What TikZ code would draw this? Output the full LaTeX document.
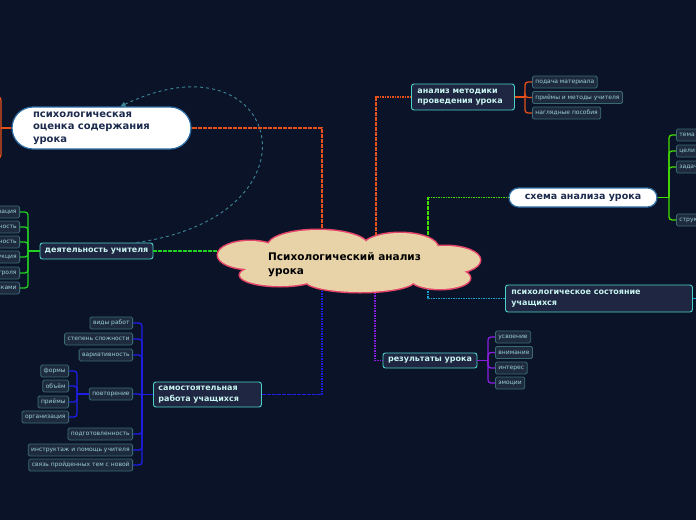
\documentclass[tikz,border=0pt]{standalone}
\usepackage{fontspec}
\setmainfont{DejaVu Sans}
\usetikzlibrary{arrows.meta}
\definecolor{bg}{HTML}{0B1329}
\definecolor{boxfill}{HTML}{1E2642}
\definecolor{tealb}{HTML}{4CD3C9}
\definecolor{maintext}{HTML}{C8F4EF}
\definecolor{leaffill}{HTML}{1E2B3E}
\definecolor{leafb}{HTML}{3A6B74}
\definecolor{leaftext}{HTML}{9CCFD8}
\definecolor{pillb}{HTML}{2B6CA3}
\definecolor{pilltext}{HTML}{1C2B4E}
\definecolor{cloudfill}{HTML}{E8D3A8}
\definecolor{cloudb}{HTML}{E6456A}
\definecolor{corange}{HTML}{E4511B}
\definecolor{cgreen}{HTML}{22D022}
\definecolor{clime}{HTML}{44DD00}
\definecolor{ccyan}{HTML}{1BA3CF}
\definecolor{cpurple}{HTML}{8A1FE0}
\definecolor{cblue}{HTML}{1E1EE8}
\definecolor{crel}{HTML}{3D8796}
\tikzset{
  mainbox/.style={fill=boxfill, draw=tealb, line width=0.9pt, rounded corners=2.5pt, text=maintext, font=\fontsize{8}{10.5}\selectfont\bfseries, inner ysep=1pt},
  leaf/.style={fill=leaffill, draw=leafb, line width=0.8pt, rounded corners=1.5pt, text=leaftext, font=\fontsize{6}{7}\selectfont, minimum height=12pt, inner xsep=3pt, inner ysep=0pt},
  pill/.style={fill=white, draw=pillb, line width=1.2pt, text=pilltext},
  dotline/.style={line width=1.5pt, dash pattern=on 1.6pt off 0.9pt},
  branch/.style={line width=1.3pt, rounded corners=3pt},
  rel/.style={crel, line width=0.9pt, dash pattern=on 3pt off 3pt, -{Triangle[length=5pt,width=5pt]}}
}
\begin{document}
\begin{tikzpicture}[x=1pt,y=-1pt]
\fill[bg] (0,0) rectangle (696,520);
\useasboundingbox (0,0) rectangle (696,520);

% ---- main nodes
\node[pill, minimum width=179pt, minimum height=42pt, rounded corners=21pt, text width=137pt, align=left, inner xsep=0pt, font=\fontsize{10}{12.5}\selectfont\bfseries] (psy) at (101.5,128) {психологическая\\оценка содержания\\урока};
\node[mainbox, minimum width=113pt, minimum height=16pt] (teach) at (96.5,251) {деятельность учителя};
\node[mainbox, anchor=west, inner xsep=6pt, text width=91pt, minimum height=26pt, align=left] (met) at (411,97) {анализ методики\\проведения урока};
\node[pill, minimum width=148pt, minimum height=19pt, rounded corners=9.5pt, font=\fontsize{9.5}{11}\selectfont\bfseries] (schema) at (583,197.5) {схема анализа урока};
\node[mainbox, anchor=west, inner xsep=6pt, text width=175pt, minimum height=27pt, align=left] (state) at (505,298.5) {психологическое состояние\\учащихся};
\node[mainbox, minimum width=94pt, minimum height=15pt] (res) at (430,360.5) {результаты урока};
\node[mainbox, anchor=west, inner xsep=5pt, text width=98pt, minimum height=25pt, align=left] (self) at (153,394.5) {самостоятельная\\работа учащихся};

% ---- leaves: teacher activity (cut off by the left edge, as in the reference)
\node[leaf, anchor=east] (t1) at (20,212) {мотивация};
\node[leaf, anchor=east] (t2) at (20,227) {эмоциональность};
\node[leaf, anchor=east] (t3) at (20,242) {организованность};
\node[leaf, anchor=east] (t4) at (20,257) {инструкция};
\node[leaf, anchor=east] (t5) at (20,273) {формы контроля};
\node[leaf, anchor=east] (t6) at (20,288) {работа с учебниками};
% ---- leaves: methods
\node[leaf, anchor=west] (m1) at (532,82) {подача материала};
\node[leaf, anchor=west] (m2) at (532,97.5) {приёмы и методы учителя};
\node[leaf, anchor=west] (m3) at (532,113) {наглядные пособия};
% ---- leaves: schema (cut off by the right edge, as in the reference)
\node[leaf, anchor=west] (s1) at (676,135) {тема урока};
\node[leaf, anchor=west] (s2) at (676,151) {цели урока};
\node[leaf, anchor=west] (s3) at (676,167) {задачи урока};
\node[leaf, anchor=west] (s4) at (676,220) {структура урока};
% ---- leaves: results
\node[leaf, anchor=west] (r1) at (495,337) {усвоение};
\node[leaf, anchor=west] (r2) at (495,352.5) {внимание};
\node[leaf, anchor=west] (r3) at (495,368) {интерес};
\node[leaf, anchor=west] (r4) at (495,383) {эмоции};
% ---- leaves: independent work
\node[leaf, anchor=east] (w1) at (133,323) {виды работ};
\node[leaf, anchor=east] (w2) at (133,339) {степень сложности};
\node[leaf, anchor=east] (w3) at (133,355) {вариативность};
\node[leaf, anchor=east] (w4) at (133,394) {повторение};
\node[leaf, anchor=east] (w5) at (133,434) {подготовленность};
\node[leaf, anchor=east] (w6) at (133,450) {инструктаж и помощь учителя};
\node[leaf, anchor=east] (w7) at (133,465) {связь пройденных тем с новой};
\node[leaf, anchor=east] (p1) at (69,371) {формы};
\node[leaf, anchor=east] (p2) at (69,386) {объём};
\node[leaf, anchor=east] (p3) at (69,402) {приёмы};
\node[leaf, anchor=east] (p4) at (69,417) {организация};

% ---- bracket junctions
\coordinate (jt) at (28,251);
\coordinate (jm) at (525,97);
\coordinate (js) at (669,197.5);
\coordinate (jr) at (488,360.5);
\coordinate (jw) at (142,394.5);
\coordinate (jp) at (77,394);
\coordinate (jpsy) at (1,128);
\coordinate (psyo1) at (-10,97);
\coordinate (psyo2) at (-10,158);
\coordinate (stateo) at (710,298.5);

\begin{scope}[branch, cgreen]
\draw (teach.west) -- (jt);
\foreach \n in {t1,t2,t3,t4,t5,t6} \draw (jt) |- (\n.east);
\end{scope}
\begin{scope}[branch, corange]
\draw (met.east) -- (jm);
\foreach \n in {m1,m2,m3} \draw (jm) |- (\n.west);
\draw (psy.west) -- (jpsy);
\draw (jpsy) |- (psyo1);
\draw (jpsy) |- (psyo2);
\end{scope}
\begin{scope}[branch, clime]
\draw (schema.east) -- (js);
\foreach \n in {s1,s2,s3,s4} \draw (js) |- (\n.west);
\end{scope}
\begin{scope}[branch, cpurple]
\draw (res.east) -- (jr);
\foreach \n in {r1,r2,r3,r4} \draw (jr) |- (\n.west);
\end{scope}
\begin{scope}[branch, cblue]
\draw (self.west) -- (jw);
\foreach \n in {w1,w2,w3,w4,w5,w6,w7} \draw (jw) |- (\n.east);
\draw (w4.west) -- (jp);
\foreach \n in {p1,p2,p3,p4} \draw (jp) |- (\n.east);
\end{scope}
\draw[branch, ccyan] (state.east) -- (stateo);

% ---- connectors from the central cloud
\coordinate (co1) at (322,238);
\coordinate (co2) at (376,236);
\coordinate (cg1) at (222,251);
\coordinate (cg2) at (428,240);
\coordinate (cc) at (428,286);
\coordinate (cp) at (375,290);
\coordinate (cb) at (322,288);
\draw[dotline, draw=corange] (co1) |- (psy.east);
\draw[dotline, draw=corange] (co2) |- (met.west);
\draw[dotline, draw=cgreen] (cg1) -- (teach.east);
\draw[dotline, draw=clime] (cg2) |- (schema.west);
\draw[dotline, draw=ccyan] (cc) |- (state.west);
\draw[dotline, draw=cpurple] (cp) |- (res.west);
\draw[dotline, draw=cblue] (cb) |- (self.east);

% ---- central cloud
\foreach \cx/\cy/\rx/\ry in {250/255/32/14, 318/246/50/16, 400/248/38/15, 445/260/35/14, 440/278/30/11, 360/280/55/12, 280/275/40/11}
  \filldraw[draw=cloudb, fill=cloudfill, line width=3pt] (\cx,\cy) ellipse [x radius=\rx, y radius=\ry];
\foreach \cx/\cy/\rx/\ry in {250/255/32/14, 318/246/50/16, 400/248/38/15, 445/260/35/14, 440/278/30/11, 360/280/55/12, 280/275/40/11, 350/262/110/20}
  \fill[cloudfill] (\cx,\cy) ellipse [x radius=\rx, y radius=\ry];
\node[anchor=west, text=black, align=left, font=\fontsize{10.5}{14}\selectfont\bfseries, inner sep=0pt] (center) at (268,265) {Психологический анализ\\урока};

% ---- relationship arrow
\draw[rel] ([xshift=40pt]teach.north) .. controls (330,215) and (280,30) .. ([xshift=19pt]psy.north);
\end{tikzpicture}
\end{document}
